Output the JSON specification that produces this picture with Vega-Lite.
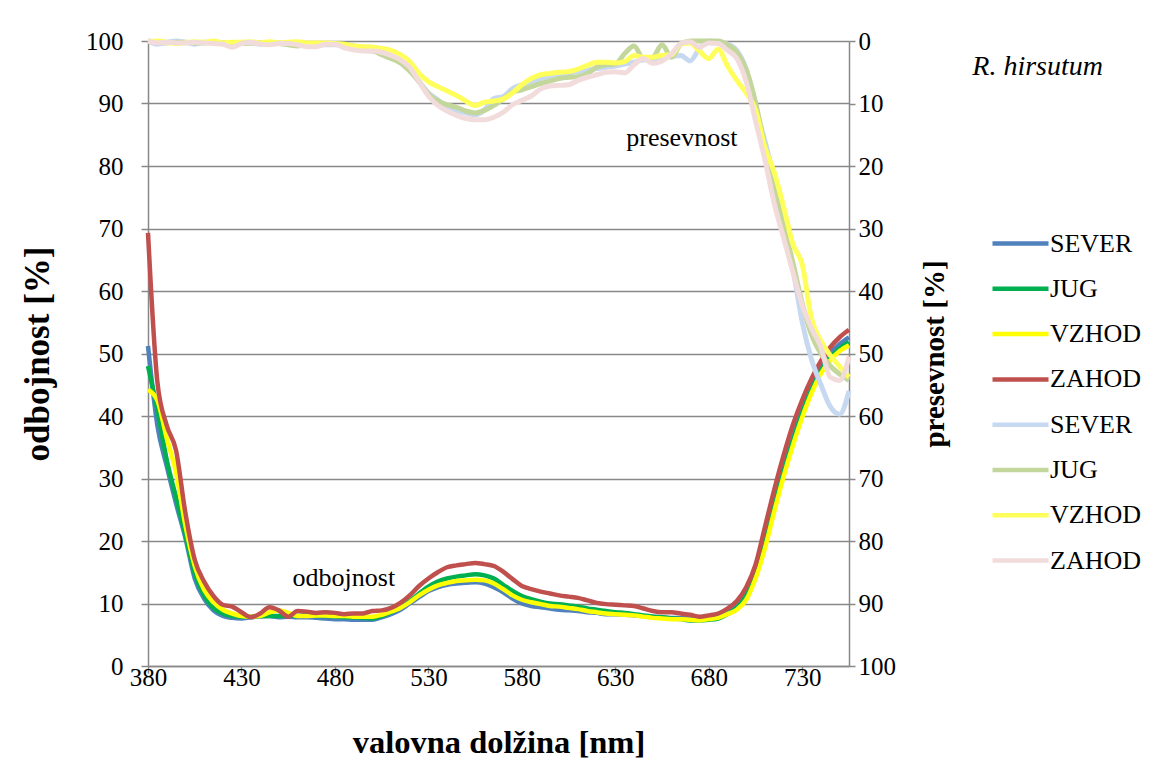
{
  "$schema": "https://vega.github.io/schema/vega-lite/v6.json",
  "width": 701,
  "height": 625,
  "autosize": {"type": "none"},
  "padding": {"left": 148, "top": 41, "right": 310, "bottom": 118},
  "background": "white",
  "config": {
    "font": "Liberation Serif",
    "view": {"stroke": null},
    "text": {"font": "Liberation Serif"},
    "style": {
      "guide-label": {"font": "Liberation Serif"},
      "guide-title": {"font": "Liberation Serif"}
    },
    "legend": {"labelFont": "Liberation Serif", "titleFont": "Liberation Serif"},
    "axis": {
      "labelFont": "Liberation Serif",
      "titleFont": "Liberation Serif",
      "labelColor": "#000000",
      "titleColor": "#000000",
      "domainColor": "#888888",
      "tickColor": "#888888",
      "gridColor": "#888888",
      "domainWidth": 1.5,
      "tickWidth": 1.5,
      "gridWidth": 1.5,
      "labelFlush": false,
      "labelOverlap": false
    }
  },
  "datasets": {
    "odbojnost": [
      {"nm": 380, "SEVER odbojnost": 51.2, "JUG odbojnost": 48.0, "VZHOD odbojnost": 44.2, "ZAHOD odbojnost": 69.3},
      {"nm": 385, "SEVER odbojnost": 38.5, "JUG odbojnost": 41.0, "VZHOD odbojnost": 42.5, "ZAHOD odbojnost": 45.5},
      {"nm": 390, "SEVER odbojnost": 32.0, "JUG odbojnost": 33.0, "VZHOD odbojnost": 36.5, "ZAHOD odbojnost": 38.5},
      {"nm": 395, "SEVER odbojnost": 26.0, "JUG odbojnost": 27.0, "VZHOD odbojnost": 31.0, "ZAHOD odbojnost": 34.5},
      {"nm": 400, "SEVER odbojnost": 20.5, "JUG odbojnost": 21.0, "VZHOD odbojnost": 22.5, "ZAHOD odbojnost": 24.5},
      {"nm": 405, "SEVER odbojnost": 14.0, "JUG odbojnost": 14.8, "VZHOD odbojnost": 16.0, "ZAHOD odbojnost": 17.0},
      {"nm": 410, "SEVER odbojnost": 10.8, "JUG odbojnost": 11.3, "VZHOD odbojnost": 12.2, "ZAHOD odbojnost": 13.5},
      {"nm": 415, "SEVER odbojnost": 8.9, "JUG odbojnost": 9.3, "VZHOD odbojnost": 10.2, "ZAHOD odbojnost": 11.2},
      {"nm": 420, "SEVER odbojnost": 8.0, "JUG odbojnost": 8.4, "VZHOD odbojnost": 9.0, "ZAHOD odbojnost": 9.8},
      {"nm": 425, "SEVER odbojnost": 7.7, "JUG odbojnost": 8.0, "VZHOD odbojnost": 8.4, "ZAHOD odbojnost": 9.5},
      {"nm": 430, "SEVER odbojnost": 7.6, "JUG odbojnost": 7.9, "VZHOD odbojnost": 8.0, "ZAHOD odbojnost": 8.6},
      {"nm": 435, "SEVER odbojnost": 7.8, "JUG odbojnost": 7.9, "VZHOD odbojnost": 7.9, "ZAHOD odbojnost": 7.8},
      {"nm": 440, "SEVER odbojnost": 7.9, "JUG odbojnost": 8.0, "VZHOD odbojnost": 8.0, "ZAHOD odbojnost": 8.4},
      {"nm": 445, "SEVER odbojnost": 8.0, "JUG odbojnost": 8.0, "VZHOD odbojnost": 8.6, "ZAHOD odbojnost": 9.4},
      {"nm": 450, "SEVER odbojnost": 7.8, "JUG odbojnost": 8.0, "VZHOD odbojnost": 8.9, "ZAHOD odbojnost": 8.9},
      {"nm": 455, "SEVER odbojnost": 7.9, "JUG odbojnost": 8.1, "VZHOD odbojnost": 8.5, "ZAHOD odbojnost": 7.9},
      {"nm": 460, "SEVER odbojnost": 7.8, "JUG odbojnost": 8.0, "VZHOD odbojnost": 8.0, "ZAHOD odbojnost": 8.8},
      {"nm": 465, "SEVER odbojnost": 7.8, "JUG odbojnost": 8.2, "VZHOD odbojnost": 8.0, "ZAHOD odbojnost": 8.7},
      {"nm": 470, "SEVER odbojnost": 7.7, "JUG odbojnost": 8.0, "VZHOD odbojnost": 8.1, "ZAHOD odbojnost": 8.5},
      {"nm": 475, "SEVER odbojnost": 7.6, "JUG odbojnost": 8.0, "VZHOD odbojnost": 8.1, "ZAHOD odbojnost": 8.6},
      {"nm": 480, "SEVER odbojnost": 7.5, "JUG odbojnost": 7.9, "VZHOD odbojnost": 8.0, "ZAHOD odbojnost": 8.5},
      {"nm": 485, "SEVER odbojnost": 7.5, "JUG odbojnost": 7.8, "VZHOD odbojnost": 8.0, "ZAHOD odbojnost": 8.3},
      {"nm": 490, "SEVER odbojnost": 7.4, "JUG odbojnost": 7.8, "VZHOD odbojnost": 7.9, "ZAHOD odbojnost": 8.4},
      {"nm": 495, "SEVER odbojnost": 7.4, "JUG odbojnost": 7.7, "VZHOD odbojnost": 7.9, "ZAHOD odbojnost": 8.4},
      {"nm": 500, "SEVER odbojnost": 7.4, "JUG odbojnost": 7.6, "VZHOD odbojnost": 7.9, "ZAHOD odbojnost": 8.8},
      {"nm": 505, "SEVER odbojnost": 7.8, "JUG odbojnost": 8.0, "VZHOD odbojnost": 8.2, "ZAHOD odbojnost": 8.9},
      {"nm": 510, "SEVER odbojnost": 8.3, "JUG odbojnost": 8.6, "VZHOD odbojnost": 8.7, "ZAHOD odbojnost": 9.3},
      {"nm": 515, "SEVER odbojnost": 9.0, "JUG odbojnost": 9.4, "VZHOD odbojnost": 9.3, "ZAHOD odbojnost": 10.1},
      {"nm": 520, "SEVER odbojnost": 10.0, "JUG odbojnost": 10.4, "VZHOD odbojnost": 10.2, "ZAHOD odbojnost": 11.3},
      {"nm": 525, "SEVER odbojnost": 11.0, "JUG odbojnost": 11.6, "VZHOD odbojnost": 11.3, "ZAHOD odbojnost": 12.8},
      {"nm": 530, "SEVER odbojnost": 12.0, "JUG odbojnost": 12.7, "VZHOD odbojnost": 12.2, "ZAHOD odbojnost": 14.0},
      {"nm": 535, "SEVER odbojnost": 12.6, "JUG odbojnost": 13.5, "VZHOD odbojnost": 12.9, "ZAHOD odbojnost": 15.0},
      {"nm": 540, "SEVER odbojnost": 13.0, "JUG odbojnost": 14.0, "VZHOD odbojnost": 13.3, "ZAHOD odbojnost": 15.8},
      {"nm": 545, "SEVER odbojnost": 13.2, "JUG odbojnost": 14.3, "VZHOD odbojnost": 13.6, "ZAHOD odbojnost": 16.1},
      {"nm": 550, "SEVER odbojnost": 13.3, "JUG odbojnost": 14.5, "VZHOD odbojnost": 13.7, "ZAHOD odbojnost": 16.3},
      {"nm": 555, "SEVER odbojnost": 13.4, "JUG odbojnost": 14.7, "VZHOD odbojnost": 13.8, "ZAHOD odbojnost": 16.5},
      {"nm": 560, "SEVER odbojnost": 13.2, "JUG odbojnost": 14.5, "VZHOD odbojnost": 13.7, "ZAHOD odbojnost": 16.3},
      {"nm": 565, "SEVER odbojnost": 12.6, "JUG odbojnost": 14.0, "VZHOD odbojnost": 13.2, "ZAHOD odbojnost": 16.0},
      {"nm": 570, "SEVER odbojnost": 11.8, "JUG odbojnost": 13.0, "VZHOD odbojnost": 12.3, "ZAHOD odbojnost": 15.1},
      {"nm": 575, "SEVER odbojnost": 10.8, "JUG odbojnost": 12.0, "VZHOD odbojnost": 11.3, "ZAHOD odbojnost": 13.9},
      {"nm": 580, "SEVER odbojnost": 10.0, "JUG odbojnost": 11.2, "VZHOD odbojnost": 10.6, "ZAHOD odbojnost": 12.8},
      {"nm": 585, "SEVER odbojnost": 9.6, "JUG odbojnost": 10.7, "VZHOD odbojnost": 10.2, "ZAHOD odbojnost": 12.3},
      {"nm": 590, "SEVER odbojnost": 9.4, "JUG odbojnost": 10.3, "VZHOD odbojnost": 9.9, "ZAHOD odbojnost": 11.9},
      {"nm": 595, "SEVER odbojnost": 9.2, "JUG odbojnost": 10.0, "VZHOD odbojnost": 9.6, "ZAHOD odbojnost": 11.6},
      {"nm": 600, "SEVER odbojnost": 9.0, "JUG odbojnost": 9.9, "VZHOD odbojnost": 9.5, "ZAHOD odbojnost": 11.3},
      {"nm": 605, "SEVER odbojnost": 8.9, "JUG odbojnost": 9.7, "VZHOD odbojnost": 9.3, "ZAHOD odbojnost": 11.1},
      {"nm": 610, "SEVER odbojnost": 8.8, "JUG odbojnost": 9.5, "VZHOD odbojnost": 9.1, "ZAHOD odbojnost": 10.9},
      {"nm": 615, "SEVER odbojnost": 8.6, "JUG odbojnost": 9.2, "VZHOD odbojnost": 8.8, "ZAHOD odbojnost": 10.5},
      {"nm": 620, "SEVER odbojnost": 8.5, "JUG odbojnost": 9.0, "VZHOD odbojnost": 8.6, "ZAHOD odbojnost": 10.1},
      {"nm": 625, "SEVER odbojnost": 8.3, "JUG odbojnost": 8.8, "VZHOD odbojnost": 8.4, "ZAHOD odbojnost": 9.9},
      {"nm": 630, "SEVER odbojnost": 8.3, "JUG odbojnost": 8.6, "VZHOD odbojnost": 8.3, "ZAHOD odbojnost": 9.8},
      {"nm": 635, "SEVER odbojnost": 8.2, "JUG odbojnost": 8.5, "VZHOD odbojnost": 8.2, "ZAHOD odbojnost": 9.7},
      {"nm": 640, "SEVER odbojnost": 8.1, "JUG odbojnost": 8.3, "VZHOD odbojnost": 8.1, "ZAHOD odbojnost": 9.6},
      {"nm": 645, "SEVER odbojnost": 8.0, "JUG odbojnost": 8.1, "VZHOD odbojnost": 7.9, "ZAHOD odbojnost": 9.2},
      {"nm": 650, "SEVER odbojnost": 7.9, "JUG odbojnost": 7.9, "VZHOD odbojnost": 7.7, "ZAHOD odbojnost": 8.8},
      {"nm": 655, "SEVER odbojnost": 7.8, "JUG odbojnost": 7.8, "VZHOD odbojnost": 7.6, "ZAHOD odbojnost": 8.6},
      {"nm": 660, "SEVER odbojnost": 7.7, "JUG odbojnost": 7.6, "VZHOD odbojnost": 7.5, "ZAHOD odbojnost": 8.6},
      {"nm": 665, "SEVER odbojnost": 7.7, "JUG odbojnost": 7.5, "VZHOD odbojnost": 7.5, "ZAHOD odbojnost": 8.4},
      {"nm": 670, "SEVER odbojnost": 7.6, "JUG odbojnost": 7.3, "VZHOD odbojnost": 7.4, "ZAHOD odbojnost": 8.2},
      {"nm": 675, "SEVER odbojnost": 7.5, "JUG odbojnost": 7.3, "VZHOD odbojnost": 7.3, "ZAHOD odbojnost": 7.9},
      {"nm": 680, "SEVER odbojnost": 7.6, "JUG odbojnost": 7.4, "VZHOD odbojnost": 7.5, "ZAHOD odbojnost": 8.1},
      {"nm": 685, "SEVER odbojnost": 7.8, "JUG odbojnost": 7.6, "VZHOD odbojnost": 7.7, "ZAHOD odbojnost": 8.4},
      {"nm": 690, "SEVER odbojnost": 8.5, "JUG odbojnost": 8.3, "VZHOD odbojnost": 8.3, "ZAHOD odbojnost": 9.2},
      {"nm": 695, "SEVER odbojnost": 9.6, "JUG odbojnost": 9.3, "VZHOD odbojnost": 9.0, "ZAHOD odbojnost": 10.4},
      {"nm": 700, "SEVER odbojnost": 11.5, "JUG odbojnost": 11.2, "VZHOD odbojnost": 10.6, "ZAHOD odbojnost": 12.6},
      {"nm": 705, "SEVER odbojnost": 14.8, "JUG odbojnost": 14.4, "VZHOD odbojnost": 14.0, "ZAHOD odbojnost": 16.2},
      {"nm": 710, "SEVER odbojnost": 20.0, "JUG odbojnost": 19.4, "VZHOD odbojnost": 18.8, "ZAHOD odbojnost": 22.2},
      {"nm": 715, "SEVER odbojnost": 26.0, "JUG odbojnost": 25.4, "VZHOD odbojnost": 24.7, "ZAHOD odbojnost": 28.2},
      {"nm": 720, "SEVER odbojnost": 31.5, "JUG odbojnost": 31.0, "VZHOD odbojnost": 30.3, "ZAHOD odbojnost": 33.7},
      {"nm": 725, "SEVER odbojnost": 36.5, "JUG odbojnost": 36.0, "VZHOD odbojnost": 35.3, "ZAHOD odbojnost": 38.6},
      {"nm": 730, "SEVER odbojnost": 41.0, "JUG odbojnost": 40.5, "VZHOD odbojnost": 39.8, "ZAHOD odbojnost": 42.6},
      {"nm": 735, "SEVER odbojnost": 44.8, "JUG odbojnost": 44.2, "VZHOD odbojnost": 43.7, "ZAHOD odbojnost": 46.0},
      {"nm": 740, "SEVER odbojnost": 47.8, "JUG odbojnost": 47.2, "VZHOD odbojnost": 46.8, "ZAHOD odbojnost": 48.8},
      {"nm": 745, "SEVER odbojnost": 50.0, "JUG odbojnost": 49.3, "VZHOD odbojnost": 48.9, "ZAHOD odbojnost": 51.0},
      {"nm": 750, "SEVER odbojnost": 51.5, "JUG odbojnost": 50.8, "VZHOD odbojnost": 50.4, "ZAHOD odbojnost": 52.6},
      {"nm": 755, "SEVER odbojnost": 52.6, "JUG odbojnost": 51.8, "VZHOD odbojnost": 51.3, "ZAHOD odbojnost": 53.8}
    ],
    "presevnost": [
      {"nm": 380, "SEVER presevnost": 0.0, "JUG presevnost": 0.0, "VZHOD presevnost": 0.1, "ZAHOD presevnost": 0.0},
      {"nm": 385, "SEVER presevnost": 0.5, "JUG presevnost": 0.2, "VZHOD presevnost": 0.0, "ZAHOD presevnost": 0.3},
      {"nm": 390, "SEVER presevnost": 0.2, "JUG presevnost": 0.3, "VZHOD presevnost": 0.2, "ZAHOD presevnost": 0.2},
      {"nm": 395, "SEVER presevnost": 0.0, "JUG presevnost": 0.2, "VZHOD presevnost": 0.4, "ZAHOD presevnost": 0.3},
      {"nm": 400, "SEVER presevnost": 0.2, "JUG presevnost": 0.2, "VZHOD presevnost": 0.3, "ZAHOD presevnost": 0.3},
      {"nm": 405, "SEVER presevnost": 0.5, "JUG presevnost": 0.3, "VZHOD presevnost": 0.1, "ZAHOD presevnost": 0.2},
      {"nm": 410, "SEVER presevnost": 0.2, "JUG presevnost": 0.3, "VZHOD presevnost": 0.2, "ZAHOD presevnost": 0.3},
      {"nm": 415, "SEVER presevnost": 0.2, "JUG presevnost": 0.2, "VZHOD presevnost": 0.0, "ZAHOD presevnost": 0.4},
      {"nm": 420, "SEVER presevnost": 0.3, "JUG presevnost": 0.3, "VZHOD presevnost": 0.3, "ZAHOD presevnost": 0.5},
      {"nm": 425, "SEVER presevnost": 0.4, "JUG presevnost": 0.3, "VZHOD presevnost": 0.2, "ZAHOD presevnost": 1.0},
      {"nm": 430, "SEVER presevnost": 0.3, "JUG presevnost": 0.4, "VZHOD presevnost": 0.2, "ZAHOD presevnost": 0.4},
      {"nm": 435, "SEVER presevnost": 0.3, "JUG presevnost": 0.3, "VZHOD presevnost": 0.1, "ZAHOD presevnost": 0.2},
      {"nm": 440, "SEVER presevnost": 0.5, "JUG presevnost": 0.3, "VZHOD presevnost": 0.3, "ZAHOD presevnost": 0.5},
      {"nm": 445, "SEVER presevnost": 0.3, "JUG presevnost": 0.5, "VZHOD presevnost": 0.1, "ZAHOD presevnost": 0.6},
      {"nm": 450, "SEVER presevnost": 0.4, "JUG presevnost": 0.4, "VZHOD presevnost": 0.3, "ZAHOD presevnost": 0.4},
      {"nm": 455, "SEVER presevnost": 0.5, "JUG presevnost": 0.6, "VZHOD presevnost": 0.2, "ZAHOD presevnost": 0.4},
      {"nm": 460, "SEVER presevnost": 0.6, "JUG presevnost": 0.8, "VZHOD presevnost": 0.1, "ZAHOD presevnost": 0.6},
      {"nm": 465, "SEVER presevnost": 0.5, "JUG presevnost": 0.6, "VZHOD presevnost": 0.3, "ZAHOD presevnost": 0.9},
      {"nm": 470, "SEVER presevnost": 0.6, "JUG presevnost": 0.6, "VZHOD presevnost": 0.3, "ZAHOD presevnost": 0.9},
      {"nm": 475, "SEVER presevnost": 0.6, "JUG presevnost": 0.5, "VZHOD presevnost": 0.3, "ZAHOD presevnost": 0.5},
      {"nm": 480, "SEVER presevnost": 0.6, "JUG presevnost": 0.5, "VZHOD presevnost": 0.4, "ZAHOD presevnost": 0.5},
      {"nm": 485, "SEVER presevnost": 0.8, "JUG presevnost": 0.5, "VZHOD presevnost": 0.5, "ZAHOD presevnost": 1.1},
      {"nm": 490, "SEVER presevnost": 1.2, "JUG presevnost": 0.8, "VZHOD presevnost": 0.8, "ZAHOD presevnost": 1.4},
      {"nm": 495, "SEVER presevnost": 1.5, "JUG presevnost": 1.1, "VZHOD presevnost": 0.9, "ZAHOD presevnost": 1.6},
      {"nm": 500, "SEVER presevnost": 1.6, "JUG presevnost": 1.5, "VZHOD presevnost": 1.0, "ZAHOD presevnost": 1.6},
      {"nm": 505, "SEVER presevnost": 1.8, "JUG presevnost": 2.2, "VZHOD presevnost": 1.2, "ZAHOD presevnost": 1.8},
      {"nm": 510, "SEVER presevnost": 2.4, "JUG presevnost": 2.8, "VZHOD presevnost": 1.5, "ZAHOD presevnost": 2.3},
      {"nm": 515, "SEVER presevnost": 3.3, "JUG presevnost": 3.5, "VZHOD presevnost": 2.2, "ZAHOD presevnost": 3.0},
      {"nm": 520, "SEVER presevnost": 4.5, "JUG presevnost": 4.8, "VZHOD presevnost": 3.3, "ZAHOD presevnost": 4.2},
      {"nm": 525, "SEVER presevnost": 6.5, "JUG presevnost": 6.5, "VZHOD presevnost": 5.2, "ZAHOD presevnost": 6.5},
      {"nm": 530, "SEVER presevnost": 8.3, "JUG presevnost": 8.5, "VZHOD presevnost": 6.5, "ZAHOD presevnost": 8.8},
      {"nm": 535, "SEVER presevnost": 9.4, "JUG presevnost": 9.6, "VZHOD presevnost": 7.3, "ZAHOD presevnost": 10.3},
      {"nm": 540, "SEVER presevnost": 10.5, "JUG presevnost": 10.2, "VZHOD presevnost": 8.0, "ZAHOD presevnost": 11.2},
      {"nm": 545, "SEVER presevnost": 11.1, "JUG presevnost": 10.6, "VZHOD presevnost": 8.7, "ZAHOD presevnost": 11.9},
      {"nm": 550, "SEVER presevnost": 11.5, "JUG presevnost": 11.2, "VZHOD presevnost": 9.6, "ZAHOD presevnost": 12.4},
      {"nm": 555, "SEVER presevnost": 11.8, "JUG presevnost": 11.5, "VZHOD presevnost": 10.3, "ZAHOD presevnost": 12.6},
      {"nm": 560, "SEVER presevnost": 11.0, "JUG presevnost": 11.1, "VZHOD presevnost": 9.8, "ZAHOD presevnost": 12.6},
      {"nm": 565, "SEVER presevnost": 9.2, "JUG presevnost": 10.3, "VZHOD presevnost": 9.6, "ZAHOD presevnost": 12.2},
      {"nm": 570, "SEVER presevnost": 8.9, "JUG presevnost": 9.3, "VZHOD presevnost": 9.3, "ZAHOD presevnost": 11.4},
      {"nm": 575, "SEVER presevnost": 7.6, "JUG presevnost": 8.2, "VZHOD presevnost": 8.3, "ZAHOD presevnost": 10.2},
      {"nm": 580, "SEVER presevnost": 7.0, "JUG presevnost": 7.8, "VZHOD presevnost": 7.0, "ZAHOD presevnost": 9.5},
      {"nm": 585, "SEVER presevnost": 6.5, "JUG presevnost": 7.3, "VZHOD presevnost": 6.0, "ZAHOD presevnost": 8.8},
      {"nm": 590, "SEVER presevnost": 6.0, "JUG presevnost": 6.8, "VZHOD presevnost": 5.4, "ZAHOD presevnost": 7.7},
      {"nm": 595, "SEVER presevnost": 5.6, "JUG presevnost": 6.4, "VZHOD presevnost": 5.2, "ZAHOD presevnost": 7.2},
      {"nm": 600, "SEVER presevnost": 5.3, "JUG presevnost": 6.0, "VZHOD presevnost": 5.0, "ZAHOD presevnost": 7.1},
      {"nm": 605, "SEVER presevnost": 5.1, "JUG presevnost": 5.8, "VZHOD presevnost": 4.9, "ZAHOD presevnost": 7.0},
      {"nm": 610, "SEVER presevnost": 4.9, "JUG presevnost": 5.7, "VZHOD presevnost": 4.5, "ZAHOD presevnost": 6.3},
      {"nm": 615, "SEVER presevnost": 4.7, "JUG presevnost": 5.2, "VZHOD presevnost": 3.9, "ZAHOD presevnost": 5.8},
      {"nm": 620, "SEVER presevnost": 4.4, "JUG presevnost": 4.2, "VZHOD presevnost": 3.4, "ZAHOD presevnost": 5.4},
      {"nm": 625, "SEVER presevnost": 4.2, "JUG presevnost": 3.8, "VZHOD presevnost": 3.4, "ZAHOD presevnost": 5.0},
      {"nm": 630, "SEVER presevnost": 4.0, "JUG presevnost": 3.7, "VZHOD presevnost": 3.5, "ZAHOD presevnost": 4.9},
      {"nm": 635, "SEVER presevnost": 3.7, "JUG presevnost": 2.0, "VZHOD presevnost": 3.3, "ZAHOD presevnost": 5.1},
      {"nm": 640, "SEVER presevnost": 3.4, "JUG presevnost": 0.8, "VZHOD presevnost": 2.3, "ZAHOD presevnost": 3.8},
      {"nm": 645, "SEVER presevnost": 3.0, "JUG presevnost": 2.8, "VZHOD presevnost": 2.6, "ZAHOD presevnost": 2.8},
      {"nm": 650, "SEVER presevnost": 2.9, "JUG presevnost": 2.6, "VZHOD presevnost": 2.6, "ZAHOD presevnost": 3.6},
      {"nm": 655, "SEVER presevnost": 2.7, "JUG presevnost": 0.6, "VZHOD presevnost": 2.3, "ZAHOD presevnost": 3.2},
      {"nm": 660, "SEVER presevnost": 2.5, "JUG presevnost": 2.6, "VZHOD presevnost": 2.2, "ZAHOD presevnost": 2.1},
      {"nm": 665, "SEVER presevnost": 2.3, "JUG presevnost": 0.5, "VZHOD presevnost": 0.5, "ZAHOD presevnost": 0.4},
      {"nm": 670, "SEVER presevnost": 3.2, "JUG presevnost": 0.0, "VZHOD presevnost": 0.3, "ZAHOD presevnost": 0.1},
      {"nm": 675, "SEVER presevnost": 1.2, "JUG presevnost": 0.0, "VZHOD presevnost": 1.6, "ZAHOD presevnost": 1.0},
      {"nm": 680, "SEVER presevnost": 0.0, "JUG presevnost": 0.0, "VZHOD presevnost": 2.8, "ZAHOD presevnost": 0.3},
      {"nm": 685, "SEVER presevnost": 0.2, "JUG presevnost": 0.0, "VZHOD presevnost": 1.3, "ZAHOD presevnost": 0.4},
      {"nm": 690, "SEVER presevnost": 0.5, "JUG presevnost": 0.6, "VZHOD presevnost": 4.0, "ZAHOD presevnost": 1.5},
      {"nm": 695, "SEVER presevnost": 1.5, "JUG presevnost": 1.8, "VZHOD presevnost": 6.3, "ZAHOD presevnost": 2.8},
      {"nm": 700, "SEVER presevnost": 4.5, "JUG presevnost": 4.6, "VZHOD presevnost": 8.3, "ZAHOD presevnost": 6.5},
      {"nm": 705, "SEVER presevnost": 10.5, "JUG presevnost": 9.8, "VZHOD presevnost": 11.0, "ZAHOD presevnost": 12.8},
      {"nm": 710, "SEVER presevnost": 16.0, "JUG presevnost": 17.0, "VZHOD presevnost": 17.0, "ZAHOD presevnost": 19.0},
      {"nm": 715, "SEVER presevnost": 22.0, "JUG presevnost": 23.5, "VZHOD presevnost": 21.0, "ZAHOD presevnost": 26.0},
      {"nm": 720, "SEVER presevnost": 29.0, "JUG presevnost": 29.5, "VZHOD presevnost": 26.5, "ZAHOD presevnost": 31.5},
      {"nm": 725, "SEVER presevnost": 36.5, "JUG presevnost": 35.5, "VZHOD presevnost": 32.5, "ZAHOD presevnost": 37.0},
      {"nm": 730, "SEVER presevnost": 45.0, "JUG presevnost": 42.0, "VZHOD presevnost": 35.8, "ZAHOD presevnost": 42.3},
      {"nm": 735, "SEVER presevnost": 51.0, "JUG presevnost": 47.0, "VZHOD presevnost": 44.5, "ZAHOD presevnost": 46.0},
      {"nm": 740, "SEVER presevnost": 55.0, "JUG presevnost": 50.0, "VZHOD presevnost": 48.0, "ZAHOD presevnost": 49.0},
      {"nm": 745, "SEVER presevnost": 58.5, "JUG presevnost": 52.0, "VZHOD presevnost": 50.3, "ZAHOD presevnost": 53.8},
      {"nm": 750, "SEVER presevnost": 59.7, "JUG presevnost": 53.3, "VZHOD presevnost": 52.1, "ZAHOD presevnost": 54.3},
      {"nm": 755, "SEVER presevnost": 56.0, "JUG presevnost": 54.3, "VZHOD presevnost": 53.8, "ZAHOD presevnost": 50.5}
    ]
  },
  "layer": [
    {
      "data": {"name": "odbojnost"},
      "transform": [
        {"fold": ["SEVER odbojnost", "JUG odbojnost", "VZHOD odbojnost", "ZAHOD odbojnost"], "as": ["serija", "vrednost"]}
      ],
      "mark": {"type": "line", "strokeWidth": 4.5, "interpolate": "monotone", "strokeJoin": "round"},
      "encoding": {
        "x": {
          "field": "nm",
          "type": "quantitative",
          "scale": {"domain": [380, 755], "nice": false, "zero": false},
          "axis": {
            "title": "valovna dolžina [nm]",
            "values": [380, 430, 480, 530, 580, 630, 680, 730],
            "labelFont": "Liberation Serif",
            "labelFontSize": 25,
            "titleFontSize": 32.5,
            "titleFontWeight": "bold",
            "tickSize": 7,
            "labelPadding": -8,
            "titlePadding": 36,
            "grid": false
          }
        },
        "y": {
          "field": "vrednost",
          "type": "quantitative",
          "scale": {"domain": [0, 100], "nice": false},
          "axis": {
            "title": "odbojnost [%]",
            "values": [0, 10, 20, 30, 40, 50, 60, 70, 80, 90, 100],
            "labelFont": "Liberation Serif",
            "labelFontSize": 25,
            "titleFontSize": 35,
            "titleFontWeight": "bold",
            "tickSize": 7,
            "labelPadding": 18,
            "titlePadding": 30,
            "grid": true
          }
        },
        "color": {
          "field": "serija",
          "type": "nominal",
          "sort": null,
          "scale": {
            "domain": ["SEVER odbojnost", "JUG odbojnost", "VZHOD odbojnost", "ZAHOD odbojnost", "SEVER presevnost", "JUG presevnost", "VZHOD presevnost", "ZAHOD presevnost"],
            "range": ["#4F81BD", "#00B050", "#FFFF00", "#C0504D", "#C6D9F1", "#C3D69B", "#FFFF5C", "#F2DCDB"]
          },
          "legend": {
            "title": null,
            "orient": "none",
            "legendX": 856,
            "legendY": 186,
            "padding": 0,
            "symbolType": "M-2,0L2,0",
            "symbolSize": 784,
            "symbolStrokeWidth": 4.5,
            "labelFont": "Liberation Serif",
            "labelFontSize": 26,
            "labelColor": "#000000",
            "labelOffset": 13,
            "rowPadding": 15.3,
            "labelExpr": "split(datum.label, ' ')[0]"
          }
        }
      }
    },
    {
      "data": {"name": "presevnost"},
      "transform": [
        {"fold": ["SEVER presevnost", "JUG presevnost", "VZHOD presevnost", "ZAHOD presevnost"], "as": ["serija", "vrednost"]}
      ],
      "mark": {"type": "line", "strokeWidth": 5, "interpolate": "monotone", "strokeJoin": "round"},
      "encoding": {
        "x": {"field": "nm", "type": "quantitative"},
        "y": {
          "field": "vrednost",
          "type": "quantitative",
          "scale": {"domain": [0, 100], "reverse": true, "nice": false},
          "axis": {
            "orient": "right",
            "title": "presevnost [%]",
            "values": [0, 10, 20, 30, 40, 50, 60, 70, 80, 90, 100],
            "labelFont": "Liberation Serif",
            "labelFontSize": 25,
            "titleFontSize": 29,
            "titleFontWeight": "bold",
            "titleAngle": 270,
            "tickSize": 6,
            "labelPadding": 3,
            "titlePadding": 54,
            "grid": false
          }
        },
        "color": {"field": "serija", "type": "nominal", "sort": null}
      }
    },
    {
      "data": {"values": [
        {"nm": 484.8, "v": 14.1, "besedilo": "odbojnost"},
        {"nm": 665.6, "v": 84.5, "besedilo": "presevnost"}
      ]},
      "mark": {"type": "text", "fontSize": 26, "font": "Liberation Serif", "color": "#000000", "align": "center", "baseline": "middle"},
      "encoding": {
        "x": {"field": "nm", "type": "quantitative"},
        "y": {"field": "v", "type": "quantitative", "scale": {"domain": [0, 100]}, "axis": null},
        "text": {"field": "besedilo"}
      }
    },
    {
      "data": {"values": [
        {"nm": 855.9, "v": 95.8, "besedilo": "R. hirsutum"}
      ]},
      "mark": {"type": "text", "fontSize": 28, "font": "Liberation Serif", "fontStyle": "italic", "color": "#000000", "align": "center", "baseline": "middle"},
      "encoding": {
        "x": {"field": "nm", "type": "quantitative"},
        "y": {"field": "v", "type": "quantitative", "scale": {"domain": [0, 100]}, "axis": null},
        "text": {"field": "besedilo"}
      }
    }
  ],
  "resolve": {"scale": {"y": "independent"}, "axis": {"y": "independent"}}
}
